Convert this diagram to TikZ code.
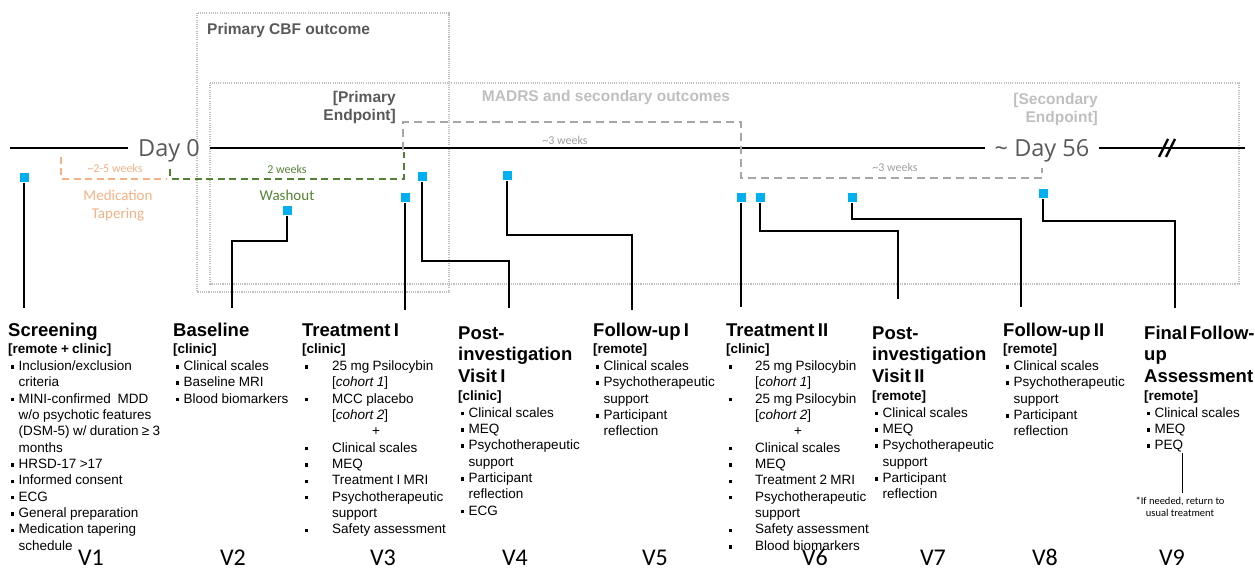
\documentclass[tikz,border=0pt]{standalone}
\usepackage{fontspec}
\setmainfont{Liberation Sans}
\newfontfamily\calfont{Carlito}
\newfontfamily\dayfont{Open Sans}
\definecolor{sqblue}{HTML}{00B0F0}
\definecolor{tapor}{HTML}{F4B183}
\definecolor{washg}{HTML}{548235}
\definecolor{dashg}{HTML}{A6A6A6}
\definecolor{dotg}{HTML}{BFBFBF}
\definecolor{darkg}{HTML}{595959}
\definecolor{lightg}{HTML}{BFBFBF}
\definecolor{weekg}{HTML}{A0A0A0}
\newcommand\hd[1]{{\fontsize{18.5}{21.8}\selectfont\bfseries #1\par}}
\newcommand\sh[1]{{\fontsize{13.5}{17.5}\selectfont\bfseries #1\par}\vspace{0.6pt}}
\newcommand\bl[2][10.5pt]{{\fontsize{13.5}{16.35}\selectfont\hangindent=#1\hangafter=1\noindent\makebox[#1][l]{\hspace{2.5pt}\rule[1.8pt]{3.6pt}{3.6pt}}#2\par}}
\newcommand\pl[2]{{\fontsize{13.5}{16.35}\selectfont\noindent\hspace*{#1}#2\par}}
\begin{document}
\begin{tikzpicture}[x=1pt,y=-1pt,
  sq/.style={fill=sqblue,draw=none,minimum size=9pt,inner sep=0pt},
  conn/.style={line width=1.8pt,draw=black},
  tline/.style={line width=1.6pt,draw=black},
  col/.style={anchor=base west,inner sep=0pt,align=left,text width=#1},
  vlab/.style={anchor=base,inner sep=0pt,text depth=0pt,font=\calfont\fontsize{24}{28}\selectfont},
  dotbox/.style={draw=dotg,line width=1.1pt,dash pattern=on 1.1pt off 1.1pt},
  oranged/.style={draw=tapor,line width=2.4pt,dash pattern=on 7pt off 4.5pt},
  greend/.style={draw=washg,line width=2.4pt,dash pattern=on 7pt off 4.5pt},
  grayd/.style={draw=dashg,line width=2.6pt,dash pattern=on 8pt off 5pt},
  wk/.style={inner sep=0pt,font=\calfont\fontsize{12}{14}\selectfont},
  phase/.style={inner sep=0pt,align=center,font=\calfont\fontsize{15}{17.5}\selectfont},
  reg/.style={inner sep=0pt,font=\bfseries\fontsize{15.5}{18}\selectfont},
  daylab/.style={anchor=base,inner xsep=10pt,inner ysep=0pt,text=darkg,font=\dayfont\fontsize{23.5}{28}\selectfont}
]
\useasboundingbox (0,0) rectangle (1255,569);

% region boxes
\draw[dotbox] (197,13) rectangle (449,292);
\draw[dotbox] (210,83) rectangle (1239,284);
\node[reg,text=darkg,anchor=west] (cbf) at (207,30) {Primary CBF outcome};
\node[reg,text=lightg] (madrs) at (606,97) {MADRS and secondary outcomes};
\node[reg,text=darkg,anchor=east,align=right] (pep) at (396,107) {[Primary\\Endpoint]};
\node[reg,text=lightg,anchor=east,align=right] (sep) at (1098,109) {[Secondary\\Endpoint]};

% timeline
\coordinate (tl0) at (10,148);
\coordinate (tl1) at (1245,148);
\node[daylab] (d0) at (169,157) {Day 0};
\node[daylab] (d56) at (1042,157) {\textasciitilde{} Day 56};
\draw[tline] (tl0) -- (tl0 -| d0.west);
\draw[tline] (d0.east |- tl0) -- (d56.west |- tl0);
\draw[tline] (d56.east |- tl0) -- (tl1);
\draw[line width=2.4pt] (1159,157) -- (1168,139);
\draw[line width=2.4pt] (1166,157) -- (1175,139);

% dashed periods
\draw[oranged] (61,157) -- (61,179) -- (166,179);
\draw[greend] (170,169) -- (170,179) -- (404,179) -- (404,152);
\draw[grayd] (403,150) -- (403,122) -- (741,122) -- (741,178) -- (1042,178) -- (1042,168);
\node[wk,text=tapor] (w25) at (115,168) {\textasciitilde2-5 weeks};
\node[wk,text=washg] (w2) at (287,169) {2 weeks};
\node[wk,text=weekg] (w3a) at (565,140) {\textasciitilde3 weeks};
\node[wk,text=weekg] (w3b) at (895,167) {\textasciitilde3 weeks};
\node[phase,text=tapor] (tap) at (118,205.5) {Medication\\Tapering};
\node[phase,text=washg] (wash) at (287,195) {Washout};

% visit markers
\node[sq] (s1) at (24,178) {};
\node[sq] (s2) at (287,211) {};
\node[sq] (s3) at (405,198) {};
\node[sq] (s4) at (422,177) {};
\node[sq] (s5) at (507,176) {};
\node[sq] (s6) at (741,198) {};
\node[sq] (s7) at (760,198) {};
\node[sq] (s8) at (852,198) {};
\node[sq] (s9) at (1043,194) {};
\coordinate (e1) at (24,308);
\coordinate (e2) at (232,308);
\coordinate (e3) at (405,310);
\coordinate (e4) at (509,308);
\coordinate (e5) at (632,310);
\coordinate (e6) at (741,307);
\coordinate (e7) at (898,299);
\coordinate (e8) at (1021,307);
\coordinate (e9) at (1175,308);
\draw[conn] (s1.south) -- (e1);
\draw[conn] (s2.south) -- (s2.south |- 0,241) -| (e2);
\draw[conn] (s3.south) -- (e3);
\draw[conn] (s4.south) -- (s4.south |- 0,261) -| (e4);
\draw[conn] (s5.south) -- (s5.south |- 0,235) -| (e5);
\draw[conn] (s6.south) -- (e6);
\draw[conn] (s7.south) -- (s7.south |- 0,231) -| (e7);
\draw[conn] (s8.south) -- (s8.south |- 0,219) -| (e8);
\draw[conn] (s9.south) -- (s9.south |- 0,221) -| (e9);

% visit texts
\node[col=160pt] (t1) at (8,336) {\hd{Screening}\sh{[remote + clinic]}%
\bl{Inclusion/exclusion\newline criteria}%
\bl{MINI-confirmed\ \ MDD\newline w/o psychotic features\newline (DSM-5) w/ duration ≥ 3\newline months}%
\bl{HRSD-17 >17}\bl{Informed consent}\bl{ECG}\bl{General preparation}%
\bl{Medication tapering\newline schedule}};
\node[col=125pt] (t2) at (173,336) {\hd{Baseline}\sh{[clinic]}%
\bl{Clinical scales}\bl{Baseline MRI}\bl{Blood biomarkers}};
\node[col=150pt] (t3) at (302,336) {\hd{Treatment I}\sh{[clinic]}%
\bl[30pt]{25 mg Psilocybin\newline [\textit{cohort 1}]}%
\bl[30pt]{MCC placebo\newline [\textit{cohort 2}]}%
\pl{70pt}{+}%
\bl[30pt]{Clinical scales}\bl[30pt]{MEQ}\bl[30pt]{Treatment I MRI}%
\bl[30pt]{Psychotherapeutic\newline support}\bl[30pt]{Safety assessment}};
\node[col=130pt] (t4) at (458,339) {\hd{Post-\newline investigation\newline Visit I}\sh{[clinic]}%
\bl{Clinical scales}\bl{MEQ}\bl{Psychotherapeutic\newline support}%
\bl{Participant\newline reflection}\bl{ECG}};
\node[col=128pt] (t5) at (593,336) {\hd{Follow-up I}\sh{[remote]}%
\bl{Clinical scales}\bl{Psychotherapeutic\newline support}\bl{Participant\newline reflection}};
\node[col=144pt] (t6) at (726,336) {\hd{Treatment II}\sh{[clinic]}%
\bl[29pt]{25 mg\ Psilocybin\newline [\textit{cohort 1}]}%
\bl[29pt]{25 mg\ Psilocybin\newline [\textit{cohort 2}]}%
\pl{68pt}{+}%
\bl[29pt]{Clinical scales}\bl[29pt]{MEQ}\bl[29pt]{Treatment 2 MRI}%
\bl[29pt]{Psychotherapeutic\newline support}\bl[29pt]{Safety assessment}\bl[29pt]{Blood biomarkers}};
\node[col=128pt] (t7) at (872,339) {\hd{Post-\newline investigation\newline Visit II}\sh{[remote]}%
\bl{Clinical scales}\bl{MEQ}\bl{Psychotherapeutic\newline support}\bl{Participant\newline reflection}};
\node[col=138pt] (t8) at (1003,336) {\hd{Follow-up II}\sh{[remote]}%
\bl{Clinical scales}\bl{Psychotherapeutic\newline support}\bl{Participant\newline reflection}};
\node[col=115pt] (t9) at (1144,339) {\hd{Final\hspace{2.5pt}Follow-\newline up\newline Assessment}\sh{[remote]}%
\bl{Clinical scales}\bl{MEQ}\bl{PEQ}};

% footnote
\node[inner sep=0pt,align=center,font=\calfont\fontsize{10.5}{11.5}\selectfont] (fn) at (1180,507) {*If needed, return to\\usual treatment};
\coordinate (fn0) at (1182,453);
\draw[line width=0.6pt,shorten >=4pt] (fn0) -- (fn0 |- fn.north);

% visit numbers
\node[vlab] (v1) at (91,565) {V1};
\node[vlab] (v2) at (233,565) {V2};
\node[vlab] (v3) at (383,565) {V3};
\node[vlab] (v4) at (515,565) {V4};
\node[vlab] (v5) at (655,565) {V5};
\node[vlab] (v6) at (815,565) {V6};
\node[vlab] (v7) at (933,565) {V7};
\node[vlab] (v8) at (1045,565) {V8};
\node[vlab] (v9) at (1172,565) {V9};
\end{tikzpicture}
\end{document}
